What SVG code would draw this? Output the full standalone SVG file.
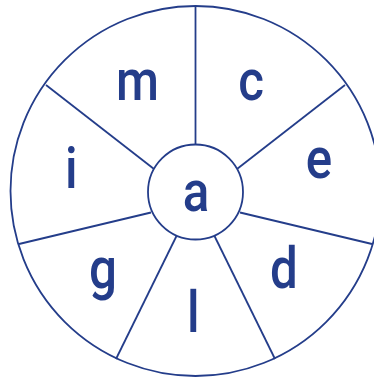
<svg xmlns="http://www.w3.org/2000/svg" width="374" height="378" viewBox="0 0 374 378">
<style>
.ln{stroke:#243d8a;stroke-width:1.8;fill:none}
.bg{fill:#ffffff;stroke:#243d8a;stroke-width:1.8}
.t{font-family:Roboto,"Liberation Sans",sans-serif;font-size:58px;font-weight:500;fill:#243d8a;text-anchor:middle}
</style>
<rect width="374" height="378" fill="#ffffff"/>
<g id="outer"><circle class="bg" cx="195.5" cy="191" r="185"/></g>
<g id="connectors">
<line class="ln" x1="195.5" y1="6" x2="195.5" y2="144.5"/>
<line class="ln" x1="237" y1="169" x2="345" y2="85"/>
<line class="ln" x1="240" y1="212.5" x2="372" y2="244"/>
<line class="ln" x1="214" y1="235" x2="275" y2="359"/>
<line class="ln" x1="154" y1="169" x2="46" y2="85"/>
<line class="ln" x1="151" y1="212.5" x2="19" y2="244"/>
<line class="ln" x1="177" y1="235" x2="116" y2="359"/>
</g>
<g id="node-a"><circle class="bg" cx="195.5" cy="192" r="47.5"/><text class="t" transform="translate(196,211) scale(0.85,1)">a</text></g>
<g id="node-m"><text class="t" transform="translate(137.5,100) scale(0.85,1)">m</text></g>
<g id="node-c"><text class="t" transform="translate(251,100) scale(0.85,1)">c</text></g>
<g id="node-e"><text class="t" transform="translate(319,178) scale(0.85,1)">e</text></g>
<g id="node-i"><text class="t" transform="translate(71.3,187.5) scale(0.85,1)">i</text></g>
<g id="node-g"><text class="t" transform="translate(103,288) scale(0.85,1)">g</text></g>
<g id="node-d"><text class="t" transform="translate(284,288) scale(0.85,1)">d</text></g>
<g id="node-l"><text class="t" transform="translate(193.3,331.5) scale(0.85,1)">l</text></g>
</svg>
